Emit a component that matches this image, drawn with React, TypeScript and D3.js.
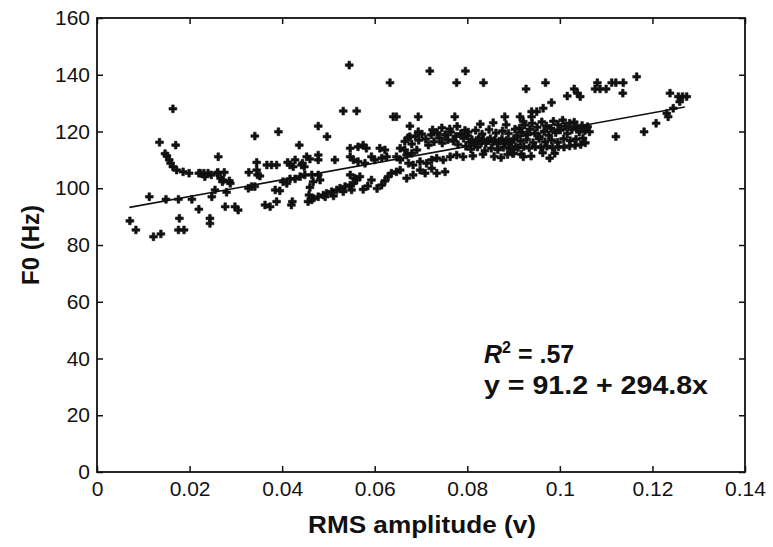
import React, { useEffect, useRef } from "react";
import { select, scaleLinear, axisBottom, axisLeft, axisTop, axisRight, symbol, symbolCross, line } from "d3";

// [RMS amplitude (v), F0 (Hz)]
const lowAmpPoints: [number, number][] = [
  [0.0071, 88.5], [0.0084, 85.3], [0.0113, 97.0], [0.0122, 82.9], [0.0138, 83.9],
  [0.0135, 116.2], [0.0147, 112.2], [0.0151, 111.4], [0.0156, 110.0], [0.0159, 108.8],
  [0.0164, 107.6], [0.0164, 128.0], [0.017, 115.2], [0.0172, 106.4], [0.0186, 105.8],
  [0.0199, 105.3], [0.0223, 105.3], [0.0231, 105.3], [0.024, 105.3], [0.026, 105.3],
  [0.0262, 111.1], [0.0149, 96.1], [0.0176, 96.1], [0.0205, 96.1], [0.0248, 97.0],
  [0.0178, 89.4], [0.0176, 85.3], [0.0188, 85.3], [0.022, 92.6], [0.0244, 89.4],
  [0.0244, 87.6], [0.0255, 99.4], [0.028, 98.6], [0.0277, 93.5], [0.0298, 93.5],
  [0.0305, 92.3], [0.022, 105.3], [0.0233, 104.1], [0.0247, 104.7], [0.0261, 105.6],
  [0.0275, 105.6], [0.0267, 103.5], [0.0272, 102.9], [0.0286, 102.6], [0.0271, 102.3],
  [0.0288, 101.7],
];

const midAmpPoints: [number, number][] = [
  [0.0341, 118.4], [0.0392, 119.9], [0.0437, 115.2], [0.0453, 111.1], [0.046, 110.3],
  [0.0345, 109.1], [0.0367, 108.2], [0.0377, 108.2], [0.0388, 108.2], [0.0412, 109.1],
  [0.0417, 108.2], [0.0428, 110.0], [0.0424, 107.6], [0.0444, 108.8], [0.0448, 107.6],
  [0.0328, 105.6], [0.0345, 106.4], [0.0347, 104.7], [0.0352, 104.3], [0.0327, 100.0],
  [0.0334, 100.6], [0.0341, 100.6], [0.0385, 99.4], [0.0395, 99.1], [0.0402, 102.3],
  [0.041, 101.7], [0.0417, 103.3], [0.0428, 103.3], [0.0439, 104.1], [0.0449, 104.7],
  [0.0464, 104.7], [0.046, 100.3], [0.0458, 97.6], [0.0464, 95.9], [0.0363, 94.1],
  [0.0374, 93.5], [0.0388, 95.3], [0.0422, 95.3], [0.042, 94.1], [0.0478, 121.9],
  [0.0497, 118.2], [0.0545, 143.4], [0.0532, 127.2], [0.0561, 127.2], [0.0547, 114.1],
  [0.0564, 114.6], [0.0575, 115.2], [0.0582, 114.1], [0.0611, 114.1], [0.0622, 113.5],
  [0.0655, 114.1], [0.0665, 113.5], [0.0442, 108.2], [0.0478, 111.7], [0.0478, 110.0],
  [0.0514, 110.0], [0.0547, 111.1], [0.0554, 110.0], [0.0564, 109.4], [0.0579, 108.8],
  [0.0593, 111.1], [0.06, 110.0], [0.0615, 110.6], [0.0626, 111.1], [0.0647, 111.1],
  [0.0655, 110.0], [0.0669, 111.7], [0.068, 112.3], [0.0691, 113.5], [0.0467, 102.3],
  [0.0478, 104.7], [0.0482, 102.9], [0.0547, 104.7], [0.0557, 103.5], [0.0568, 104.1],
  [0.0593, 102.9], [0.0615, 101.1], [0.0629, 104.1], [0.0636, 105.3], [0.0647, 105.8],
  [0.0655, 106.4], [0.0456, 95.3], [0.0467, 96.5], [0.0478, 97.0], [0.0489, 97.6],
  [0.0496, 98.2], [0.0507, 98.8], [0.0518, 99.4], [0.0525, 100.0], [0.0536, 100.6],
  [0.0547, 101.1], [0.0554, 101.7], [0.0561, 102.9], [0.0493, 97.0], [0.0511, 97.3],
  [0.0532, 98.8], [0.055, 99.4], [0.0575, 99.6], [0.0585, 100.8], [0.0605, 99.9],
  [0.0622, 102.6], [0.0633, 137.2], [0.064, 125.2], [0.0647, 125.2], [0.0694, 125.2],
];

const denseBandPoints: [number, number][] = [
  [0.0673, 108.8], [0.0683, 108.2], [0.0698, 109.4], [0.0712, 108.8], [0.0723, 110.0],
  [0.0734, 110.6], [0.0748, 110.0], [0.0763, 111.1], [0.0777, 111.7], [0.0791, 111.1],
  [0.0669, 103.5], [0.0683, 104.7], [0.0698, 106.4], [0.0709, 105.3], [0.0723, 107.0],
  [0.0734, 105.3], [0.0752, 105.8], [0.0676, 121.9], [0.0694, 119.9], [0.0676, 118.2],
  [0.0719, 141.3], [0.0796, 141.3], [0.0777, 137.2], [0.0835, 137.2], [0.0773, 125.2],
  [0.0665, 116.5], [0.0672, 117.8], [0.068, 115.6], [0.0688, 118.4], [0.0695, 116.9],
  [0.0702, 119.1], [0.071, 117.3], [0.0716, 115.2], [0.0722, 118.8], [0.0728, 116.4],
  [0.0735, 119.6], [0.074, 117.7], [0.0746, 115.9], [0.0752, 118.9], [0.0758, 117.1],
  [0.0764, 119.8], [0.077, 116.6], [0.0775, 118.3], [0.078, 115.4], [0.0786, 119.2],
  [0.0792, 117.6], [0.0797, 114.8], [0.0801, 118.5], [0.0725, 120.6], [0.0745, 121.3],
  [0.0762, 120.9], [0.0778, 121.8], [0.0795, 120.4],
  [0.0805, 116.2], [0.081, 117.1], [0.0815, 115.8], [0.082, 116.9], [0.0825, 117.4],
  [0.083, 116.1], [0.0835, 117.2], [0.084, 115.9], [0.0845, 116.8], [0.085, 117.5],
  [0.0855, 116.3], [0.086, 117.0], [0.0865, 115.7], [0.087, 116.6], [0.0875, 117.3],
  [0.088, 116.0], [0.0885, 116.9], [0.089, 115.5], [0.0895, 116.4], [0.09, 117.2],
  [0.0808, 113.8], [0.0822, 114.5], [0.0838, 113.2], [0.0852, 114.1], [0.0866, 113.6],
  [0.0878, 114.4], [0.0892, 113.9], [0.0904, 114.6], [0.0812, 111.4], [0.0834, 112.0],
  [0.0858, 111.2], [0.0873, 110.8], [0.0887, 111.9], [0.0898, 112.3], [0.0802, 119.8],
  [0.0818, 120.4], [0.0832, 119.1], [0.0847, 120.7], [0.0862, 119.5], [0.0876, 120.2],
  [0.0889, 119.3], [0.0903, 120.8], [0.0828, 122.6], [0.0856, 123.1], [0.0884, 122.4],
];

const highAmpPoints: [number, number][] = [
  [0.0908, 118.6], [0.0913, 121.2], [0.0918, 119.7], [0.0924, 122.3], [0.093, 118.9],
  [0.0935, 120.8], [0.094, 122.9], [0.0946, 119.4], [0.0951, 121.5], [0.0956, 118.2],
  [0.0961, 123.4], [0.0966, 120.1], [0.0971, 122.0], [0.0976, 118.7], [0.0981, 121.1],
  [0.0986, 123.6], [0.0991, 119.6], [0.0996, 122.4], [0.1001, 120.5], [0.1006, 124.0],
  [0.1011, 121.8], [0.1016, 119.3], [0.1021, 122.9], [0.1026, 120.7], [0.1031, 123.3],
  [0.1036, 121.4], [0.1042, 119.8], [0.1048, 122.1], [0.1054, 120.3], [0.106, 121.7],
  [0.0915, 116.6], [0.0928, 117.2], [0.0942, 116.1], [0.0955, 117.5], [0.0968, 116.4],
  [0.0982, 117.0], [0.0995, 116.2], [0.1008, 117.4], [0.1022, 116.8], [0.1035, 117.3],
  [0.105, 117.6], [0.091, 114.3], [0.0922, 114.7], [0.0934, 114.2], [0.0947, 114.6],
  [0.0959, 114.4], [0.0972, 114.8], [0.0984, 114.3], [0.0997, 114.6], [0.1009, 114.5],
  [0.1021, 114.9], [0.1033, 115.1], [0.1045, 115.4], [0.1055, 116.0], [0.0917, 112.0],
  [0.0938, 111.3], [0.0963, 112.5], [0.0978, 110.6], [0.0989, 112.3],
  [0.0921, 111.1], [0.09, 112.3], [0.0881, 125.2], [0.0914, 125.2], [0.0921, 123.5],
  [0.0939, 125.2], [0.0939, 127.0], [0.095, 127.0], [0.0964, 128.2], [0.0982, 130.2],
  [0.0927, 135.0], [0.0969, 137.2], [0.1016, 132.5], [0.1031, 135.0], [0.1038, 133.5],
  [0.1044, 132.3], [0.1076, 135.0], [0.1087, 135.0], [0.11, 135.0], [0.1081, 137.2],
  [0.1112, 137.2], [0.1121, 137.2], [0.1137, 137.2], [0.1136, 133.5], [0.1166, 139.3],
  [0.1238, 133.5], [0.1256, 132.3], [0.1265, 132.3], [0.1274, 132.3], [0.1259, 130.5],
  [0.1245, 128.2], [0.1231, 126.4], [0.1234, 125.2], [0.1208, 122.9], [0.1182, 119.9],
  [0.1121, 118.2], [0.1064, 119.9],
];

const xTicks = [0, 0.02, 0.04, 0.06, 0.08, 0.1, 0.12, 0.14];
const yTicks = [0, 20, 40, 60, 80, 100, 120, 140, 160];
const fitIntercept = 91.2;
const fitSlope = 294.8;
const fitRange = [0.007, 0.127];

const W = 773, H = 547;
const margin = { top: 18, right: 28, bottom: 75, left: 97 };
const font = "'Liberation Sans', Arial, sans-serif";

const App = () => {
  const svgRef = useRef<SVGSVGElement>(null);

  useEffect(() => {
    const svg = select(svgRef.current);
    svg.selectAll("*").remove();
    const width = W - margin.left - margin.right;
    const height = H - margin.top - margin.bottom;

    const x = scaleLinear().domain([0, 0.14]).range([0, width]);
    const y = scaleLinear().domain([0, 160]).range([height, 0]);

    const g = svg.append("g").attr("transform", `translate(${margin.left},${margin.top})`);

    //inward ticks on all four sides, like a matlab box
    const styleAxis = (sel: any) => {
      sel.select(".domain").remove();
      sel.selectAll("line").attr("stroke", "#111").attr("stroke-width", 1.5);
      sel.selectAll("text").attr("font-family", font).attr("font-size", 21).attr("fill", "#111");
    };
    g.append("g").attr("transform", `translate(0,${height})`)
      .call(axisBottom(x).tickValues(xTicks).tickFormat((d: any) => String(+d)).tickSizeInner(-6).tickSizeOuter(0).tickPadding(9))
      .call(styleAxis);
    g.append("g")
      .call(axisTop(x).tickValues(xTicks).tickFormat(() => "").tickSizeInner(-6).tickSizeOuter(0))
      .call(styleAxis);
    g.append("g")
      .call(axisLeft(y).tickValues(yTicks).tickSizeInner(-6).tickSizeOuter(0).tickPadding(7))
      .call(styleAxis);
    g.append("g").attr("transform", `translate(${width},0)`)
      .call(axisRight(y).tickValues(yTicks).tickFormat(() => "").tickSizeInner(-6).tickSizeOuter(0))
      .call(styleAxis);

    g.append("rect").attr("width", width).attr("height", height)
      .attr("fill", "none").attr("stroke", "#111").attr("stroke-width", 1.8);

    // regression line
    const fit = fitRange.map(v => [v, fitIntercept + fitSlope * v] as [number, number]);
    g.append("path").datum(fit)
      .attr("d", line<[number, number]>().x(d => x(d[0])).y(d => y(d[1])))
      .attr("stroke", "#111").attr("stroke-width", 1.6).attr("fill", "none");

    const all = [...lowAmpPoints, ...midAmpPoints, ...denseBandPoints, ...highAmpPoints];
    const cross = symbol().type(symbolCross).size(34);
    g.append("g").selectAll("path").data(all).join("path")
      .attr("transform", d => `translate(${x(d[0])},${y(d[1])})`)
      .attr("d", cross as any)
      .attr("fill", "#111").attr("stroke", "#111").attr("stroke-width", 0.6);

    // labels
    svg.append("text")
      .attr("x", 308).attr("y", 533)
      .attr("textLength", 228).attr("lengthAdjust", "spacingAndGlyphs")
      .attr("font-family", font).attr("font-size", 24).attr("font-weight", "bold")
      .attr("fill", "#111")
      .text("RMS amplitude (v)");
    svg.append("text")
      .attr("transform", `translate(39,${margin.top + height / 2}) rotate(-90)`)
      .attr("text-anchor", "middle").attr("font-family", font).attr("font-size", 24).attr("font-weight", "bold")
      .attr("fill", "#111")
      .text("F0 (Hz)");

    const r2 = svg.append("text")
      .attr("x", 484).attr("y", 363).attr("font-family", font).attr("font-size", 25).attr("font-weight", "bold").attr("fill", "#111");
    r2.append("tspan").attr("font-style", "italic").text("R");
    r2.append("tspan").attr("dy", -10).attr("font-size", 16).text("2");
    r2.append("tspan").attr("dy", 10).text(" = .57");
    svg.append("text")
      .attr("x", 484).attr("y", 394)
      .attr("textLength", 224).attr("lengthAdjust", "spacingAndGlyphs")
      .attr("font-family", font).attr("font-size", 25).attr("font-weight", "bold").attr("fill", "#111")
      .text(`y = ${fitIntercept} + ${fitSlope}x`);
  }, []);

  return (
    <svg ref={svgRef} width={W} height={H} style={{ position: "absolute", left: 0, top: 0, background: "#fff" }} />
  );
};

export default App;
